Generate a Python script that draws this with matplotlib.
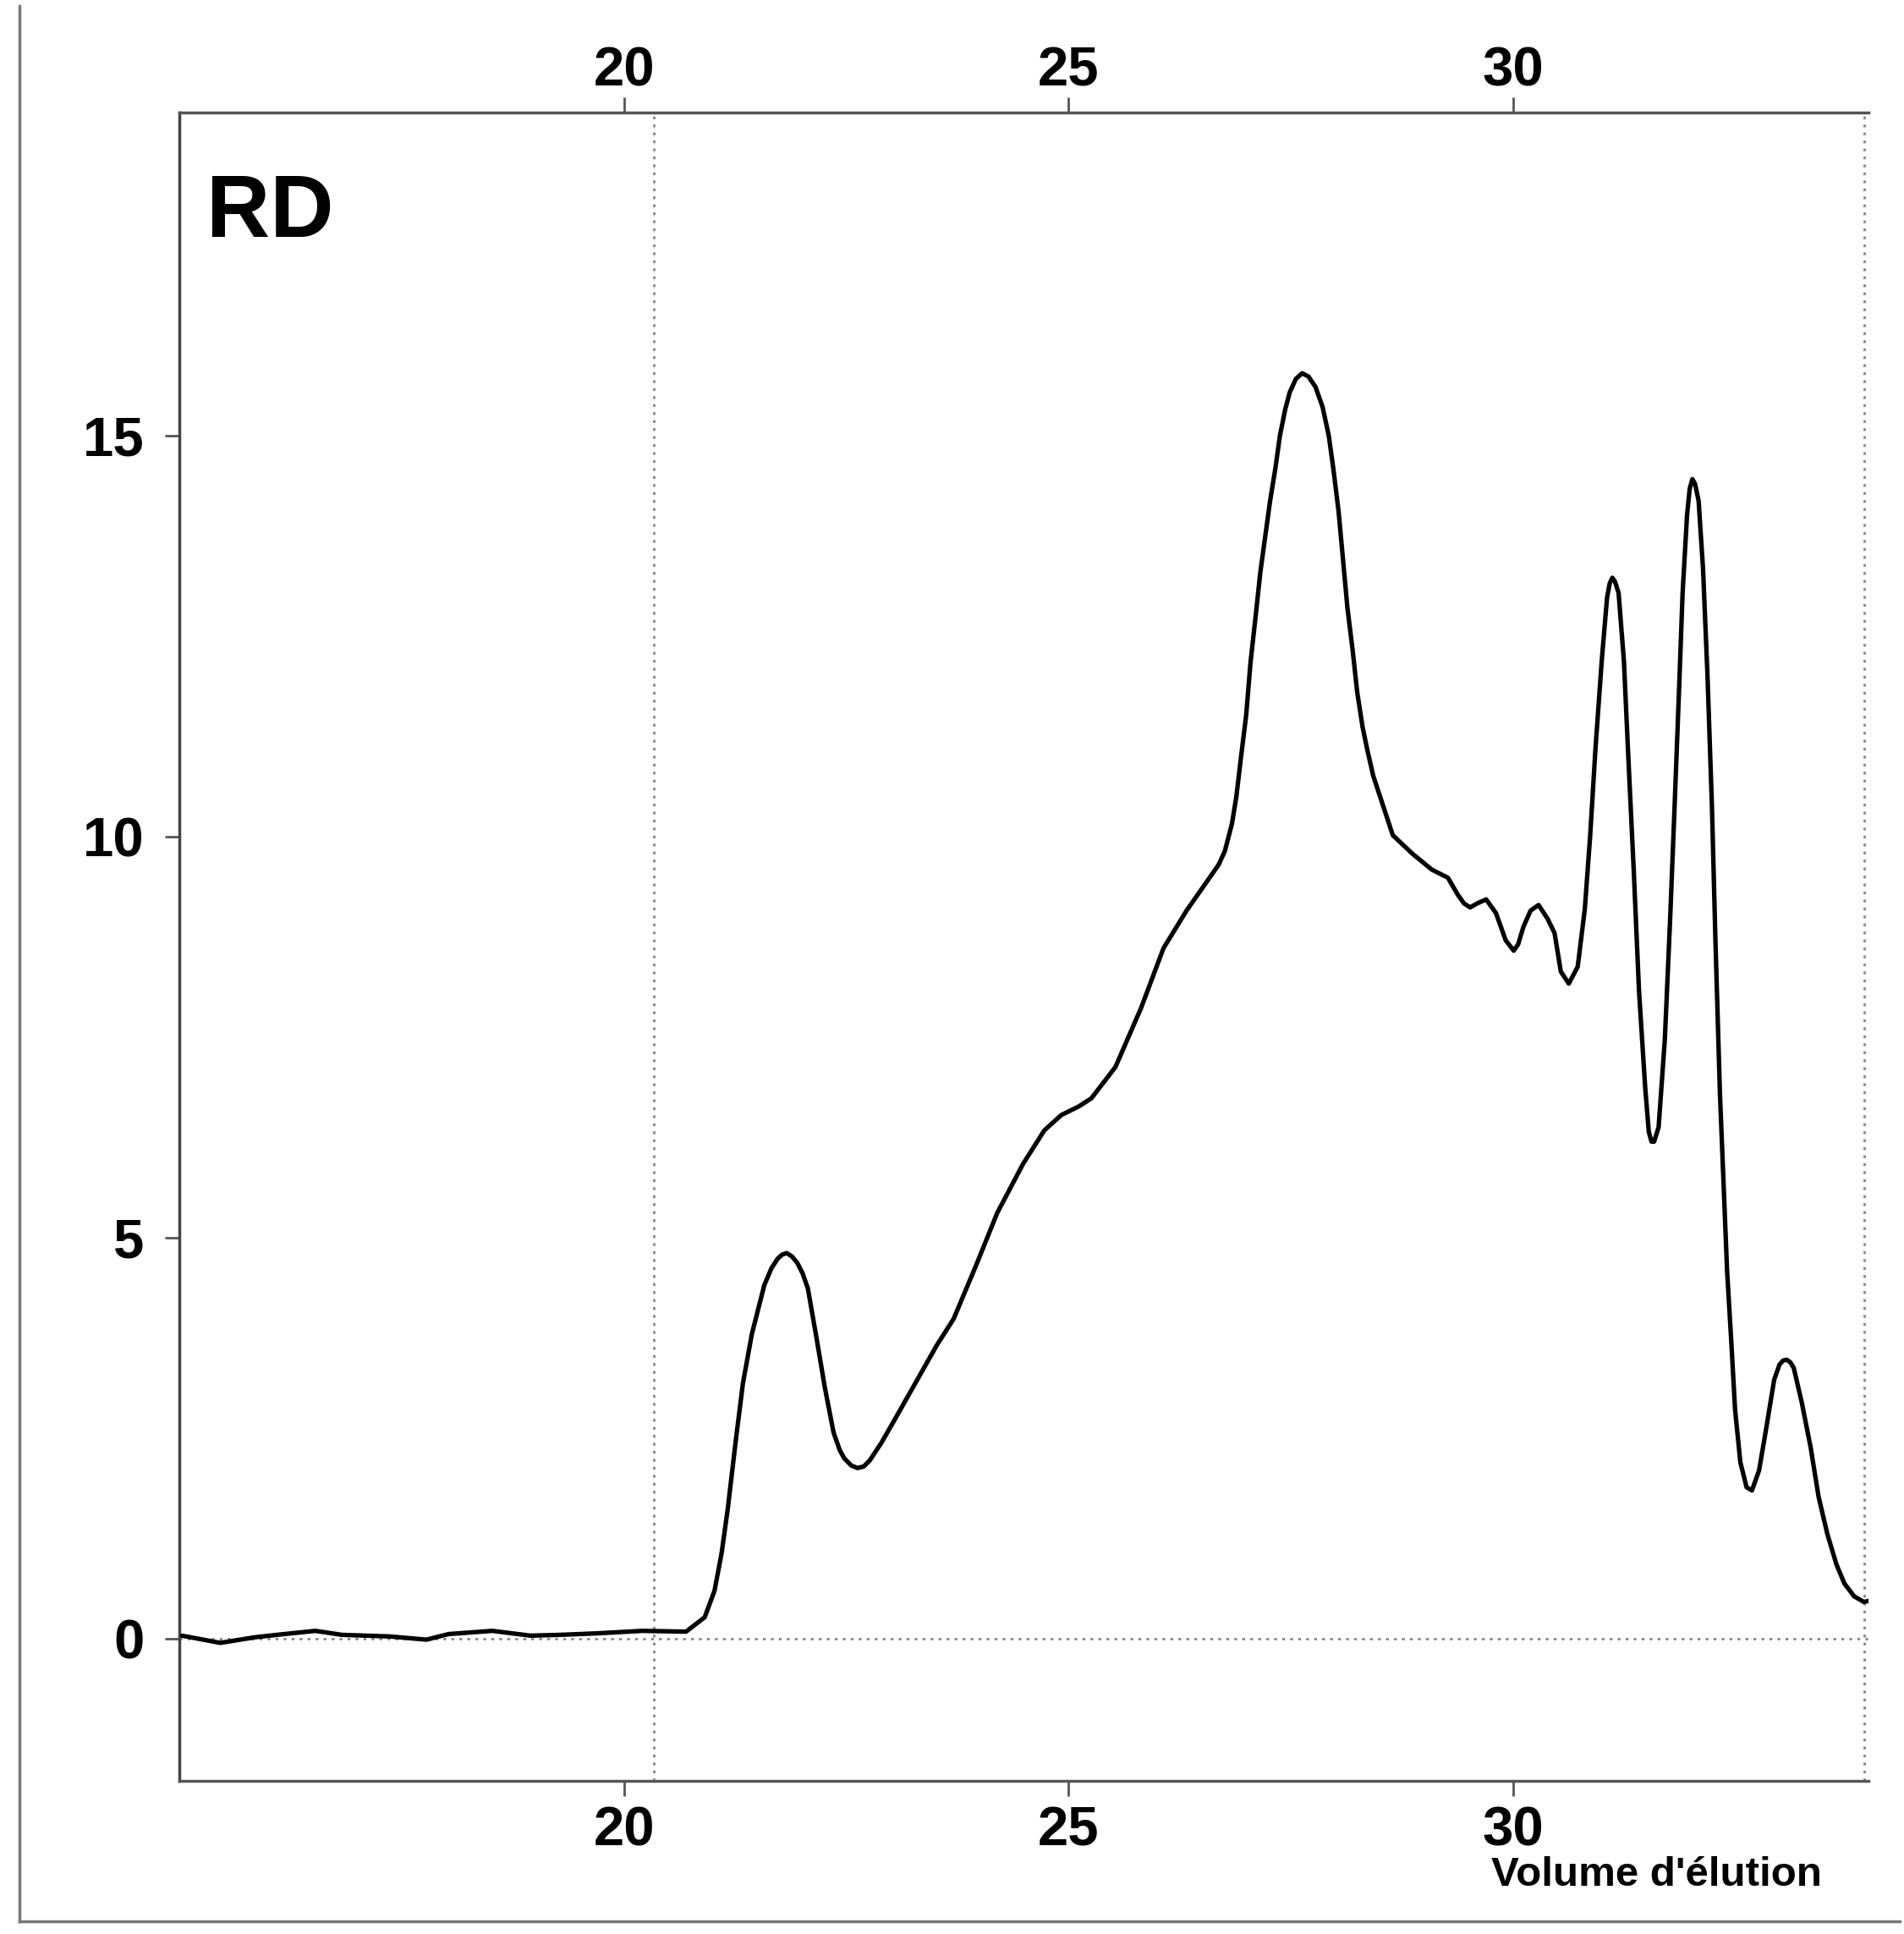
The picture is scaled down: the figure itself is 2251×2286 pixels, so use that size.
import matplotlib
matplotlib.use("Agg")
import matplotlib.pyplot as plt
from matplotlib.lines import Line2D
from matplotlib.transforms import ScaledTranslation

plt.rcParams['font.family'] = ['Liberation Sans', 'DejaVu Sans']

# elution volume (x) and detector signal (y)
volume = [15.03, 15.46, 15.85, 16.18, 16.53, 16.83, 17.37, 17.78, 18.03, 18.52,
          18.95, 19.28, 19.72, 20.21, 20.7, 20.91, 21.02, 21.10, 21.17, 21.26,
          21.34, 21.44, 21.58, 21.66, 21.73, 21.78, 21.83, 21.89, 21.95, 22.01,
          22.07, 22.16, 22.26, 22.36, 22.43, 22.48, 22.56, 22.63, 22.70, 22.77,
          22.90, 23.04, 23.28, 23.52, 23.71, 23.96, 24.2, 24.49, 24.73, 24.92,
          25.12, 25.26, 25.53, 25.82, 26.07, 26.33, 26.69, 26.76, 26.84, 26.89,
          26.94, 27.0, 27.05, 27.11, 27.16, 27.22, 27.27, 27.33, 27.38, 27.44,
          27.49, 27.56, 27.63, 27.70, 27.78, 27.86, 27.93, 27.98, 28.04, 28.09,
          28.14, 28.2, 28.25, 28.31, 28.36, 28.43, 28.51, 28.65, 28.87, 29.09,
          29.27, 29.38, 29.45, 29.52, 29.6, 29.7, 29.81, 29.92, 30.01, 30.06,
          30.12, 30.2, 30.29, 30.39, 30.47, 30.54, 30.63, 30.73, 30.81, 30.87,
          30.93, 31.0, 31.06, 31.09, 31.12, 31.15, 31.19, 31.25, 31.3, 31.36,
          31.42, 31.49, 31.53, 31.56, 31.59, 31.64, 31.71, 31.77, 31.82, 31.87,
          31.91, 31.96, 31.99, 32.02, 32.05, 32.09, 32.14, 32.19, 32.24, 32.28,
          32.33, 32.37, 32.41, 32.46, 32.5, 32.56, 32.63, 32.69, 32.77, 32.85,
          32.94, 33.0, 33.04, 33.08, 33.12, 33.16, 33.25, 33.35, 33.44, 33.54,
          33.64, 33.73, 33.84, 33.95, 34.1]
signal = [0.04, -0.05, 0.02, 0.06, 0.1, 0.05, 0.03, -0.01, 0.06, 0.1,
          0.04, 0.05, 0.07, 0.1, 0.09, 0.27, 0.6, 1.07, 1.63, 2.48,
          3.19, 3.8, 4.41, 4.62, 4.74, 4.79, 4.81, 4.77, 4.69, 4.56,
          4.37, 3.8, 3.14, 2.57, 2.35, 2.25, 2.16, 2.13, 2.15, 2.23,
          2.45, 2.72, 3.19, 3.66, 3.99, 4.65, 5.31, 5.92, 6.34, 6.53,
          6.64, 6.74, 7.13, 7.87, 8.61, 9.08, 9.65, 9.82, 10.16, 10.5,
          10.97, 11.51, 12.18, 12.78, 13.3, 13.79, 14.19, 14.6, 15.0, 15.33,
          15.54, 15.71, 15.78, 15.74, 15.61, 15.36, 15.0, 14.6, 14.06, 13.45,
          12.85, 12.31, 11.8, 11.37, 11.1, 10.76, 10.49, 10.02, 9.79, 9.59,
          9.49, 9.28, 9.17, 9.12, 9.17, 9.22, 9.05, 8.71, 8.58, 8.66,
          8.88, 9.08, 9.15, 8.98, 8.8, 8.32, 8.17, 8.38, 9.1, 10.01,
          11.1, 12.19, 12.98, 13.16, 13.23, 13.18, 13.04, 12.19, 10.98, 9.59,
          8.07, 6.86, 6.32, 6.2, 6.2, 6.38, 7.47, 8.98, 10.38, 11.83,
          13.04, 14.01, 14.34, 14.46, 14.4, 14.19, 13.34, 12.01, 10.38, 8.68,
          6.8, 5.7, 4.6, 3.66, 2.86, 2.2, 1.89, 1.85, 2.1, 2.62,
          3.23, 3.42, 3.47, 3.48, 3.45, 3.38, 2.95, 2.39, 1.77, 1.3,
          0.93, 0.69, 0.53, 0.46, 0.5]

x_ticks = [20, 25, 30]
y_ticks = [0, 5, 10, 15]
marker_volume = 20.34
end_volume = 33.95

fig = plt.figure(figsize=(22.51, 22.86), dpi=100)
ax = fig.add_axes([0.0942, 0.0792, 0.8871, 0.8626])

ax.plot(volume, signal, color="black", lw=3.8, solid_capstyle="round",
        solid_joinstyle="round", zorder=3)

dot = (0, (1.2, 2.2))
ax.axhline(0, color="#888888", lw=2, linestyle=dot, zorder=1)
ax.axvline(marker_volume, color="#888888", lw=2, linestyle=dot, zorder=1)
ax.axvline(end_volume, color="#888888", lw=2, linestyle=dot, zorder=1)

ax.set_xlim(15, 34)
ax.set_ylim(-1.77, 19.03)

ax.set_xticks(x_ticks)
ax.set_yticks(y_ticks)
ax.tick_params(axis="x", top=True, labeltop=True, direction="out",
               length=13, width=2, color="#555555", pad=8)
ax.tick_params(axis="y", direction="out", length=12, width=2, color="#555555", pad=18)
for lab in ax.get_xticklabels() + ax.get_yticklabels():
    lab.set_fontsize(47)
    lab.set_fontweight("bold")

for side in ["left", "top", "bottom"]:
    ax.spines[side].set_color("#555555")
    ax.spines[side].set_linewidth(2.5)
ax.spines["left"].set_color("#444444")
ax.spines["right"].set_visible(False)

ax.text(0.016, 0.9255, "RD", transform=ax.transAxes, fontsize=75,
        fontweight="bold", ha="left", va="baseline")

fig.text(0.783, 0.0306, "Volume d'élution", fontsize=35.5, fontweight="bold",
         ha="left", va="center")

# scanned page frame: left and bottom edge
fig.add_artist(Line2D([0.0102, 0.0102], [0.0065, 0.997], color="#777777", lw=2.5))
fig.add_artist(Line2D([0.0102, 0.998], [0.0065, 0.0065], color="#777777", lw=2.5))

# top labels sit a bit closer to the frame than the bottom ones
fig.canvas.draw()
shift = ScaledTranslation(0, -8 / 72, fig.dpi_scale_trans)
for t in ax.xaxis.get_major_ticks():
    t.label2.set_transform(t.label2.get_transform() + shift)

fig.savefig("out.png", dpi=100, facecolor="white")
